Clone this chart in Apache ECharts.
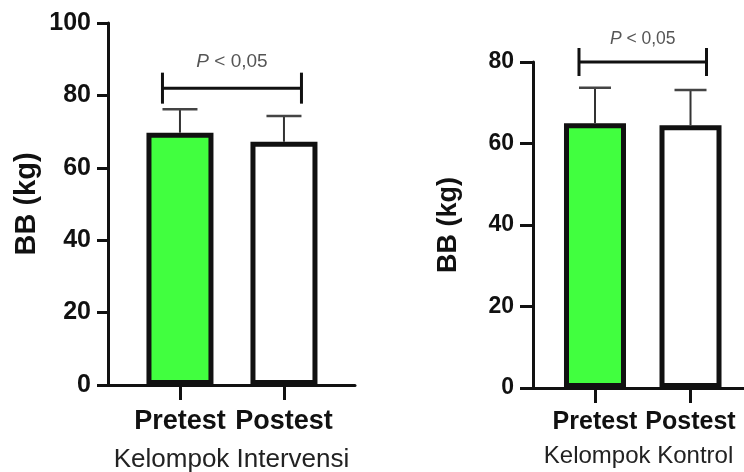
<!DOCTYPE html>
<html>
<head>
<meta charset="utf-8">
<script src="https://cdn.jsdelivr.net/npm/echarts@6/dist/echarts.min.js"></script>
<style>
html,body{margin:0;padding:0;background:#fff;}
#chart{width:744px;height:472px;}
</style>
</head>
<body>
<div id="chart"></div>
<script>
// ---- data ----
const categories = ['Pretest', 'Postest'];
const intervensiMean = [69.7, 67.2];
const intervensiSD = [6.5, 7.1];
const kontrolMean = [65.0, 64.5];
const kontrolSD = [8.7, 8.6];
const intervensiBracket = 82;   // y-level of significance bracket
const kontrolBracket = 80;
const pLabel = '< 0,05';
const leftTicks = [0, 20, 40, 60, 80, 100];
const rightTicks = [0, 20, 40, 60, 80];
const leftXName = 'Kelompok Intervensi';
const rightXName = 'Kelompok Kontrol';
const yName = 'BB (kg)';

const FONT = "'Liberation Sans', Arial, Helvetica, sans-serif";
const GREEN = '#41ff3f';
const xPos = categories.map((c, i) => i + 1);

function barData(means) {
  return means.map((m, i) => ({
    value: [xPos[i], m],
    itemStyle: { color: i === 0 ? GREEN : '#ffffff' }
  }));
}
function errData(means, sds) {
  return means.map((m, i) => [xPos[i], m, sds[i]]);
}

function errRender(capHalf) {
  return function (params, api) {
    const x = api.value(0), m = api.value(1), sd = api.value(2);
    const base = api.coord([x, m]);
    const top = api.coord([x, m + sd]);
    return {
      type: 'group',
      children: [
        { type: 'line', shape: { x1: base[0], y1: base[1], x2: top[0], y2: top[1] },
          style: { stroke: '#333', lineWidth: 2 } },
        { type: 'line', shape: { x1: top[0] - capHalf, y1: top[1], x2: top[0] + capHalf, y2: top[1] },
          style: { stroke: '#444', lineWidth: 2.5 } }
      ]
    };
  };
}

function bracketRender(capHalf, endHalf, textOff, fs) {
  return function (params, api) {
    const y = api.value(2);
    const p1 = api.coord([api.value(0), y]);
    const p2 = api.coord([api.value(1), y]);
    const xl = p1[0] - capHalf, xr = p2[0] + capHalf;
    return {
      type: 'group',
      children: [
        { type: 'line', shape: { x1: xl, y1: p1[1], x2: xr, y2: p1[1] }, style: { stroke: '#111', lineWidth: 3 } },
        { type: 'line', shape: { x1: xl, y1: p1[1] - endHalf, x2: xl, y2: p1[1] + endHalf }, style: { stroke: '#111', lineWidth: 3 } },
        { type: 'line', shape: { x1: xr, y1: p1[1] - endHalf, x2: xr, y2: p1[1] + endHalf }, style: { stroke: '#111', lineWidth: 3 } },
        { type: 'text', x: (xl + xr) / 2, y: p1[1] - textOff,
          style: {
            text: '{i|P} ' + pLabel, align: 'center', verticalAlign: 'middle',
            fontFamily: FONT, fontSize: fs, fill: '#555',
            rich: { i: { fontStyle: 'italic', fontFamily: FONT, fontSize: fs, fill: '#555' } }
          } }
      ]
    };
  };
}

function xAxisCfg(idx, min, max, name, fs, nameFs, nameGap, labelMargin) {
  return {
    gridIndex: idx, type: 'value', min: min, max: max,
    splitLine: { show: false },
    axisLine: { show: true, onZero: false, lineStyle: { color: '#111', width: 3 } },
    axisTick: { show: true, customValues: xPos, length: 15, lineStyle: { color: '#111', width: 3 } },
    axisLabel: {
      customValues: xPos, margin: labelMargin,
      formatter: v => categories[Math.round(v) - 1] || '',
      fontFamily: FONT, fontWeight: 'bold', fontSize: fs, color: '#111'
    },
    name: name, nameLocation: 'middle', nameGap: nameGap,
    nameTextStyle: { fontFamily: FONT, fontSize: nameFs, color: '#222' }
  };
}
function yAxisCfg(idx, max, fs, tickLen, margin, nameFs, nameGap) {
  return {
    gridIndex: idx, type: 'value', min: 0, max: max, interval: 20,
    splitLine: { show: false },
    axisLine: { show: true, lineStyle: { color: '#111', width: 3 } },
    axisTick: { show: true, length: tickLen, lineStyle: { color: '#111', width: 3 } },
    axisLabel: { margin: margin, fontFamily: FONT, fontWeight: 'bold', fontSize: fs, color: '#111' },
    name: yName, nameLocation: 'middle', nameGap: nameGap,
    nameTextStyle: { fontFamily: FONT, fontWeight: 'bold', fontSize: nameFs, color: '#111' }
  };
}

const chart = echarts.init(document.getElementById('chart'), null, { renderer: 'canvas' });
chart.setOption({
  animation: false,
  backgroundColor: '#ffffff',
  grid: [
    { left: 108, top: 23, width: 247, height: 362, containLabel: false, outerBoundsMode: 'none' },
    { left: 533, top: 62, width: 211, height: 326, containLabel: false, outerBoundsMode: 'none' }
  ],
  xAxis: [
    xAxisCfg(0, 0.308, 2.683, leftXName, 27, 26, 62, 23),
    xAxisCfg(1, 0.351, 2.560, rightXName, 25, 24, 56, 22)
  ],
  yAxis: [
    yAxisCfg(0, leftTicks[leftTicks.length - 1], 25, 11, 17, 29, 67),
    yAxisCfg(1, rightTicks[rightTicks.length - 1], 23, 13, 19, 27, 71)
  ],
  series: [
    { type: 'bar', xAxisIndex: 0, yAxisIndex: 0, barWidth: 67, data: barData(intervensiMean),
      itemStyle: { borderColor: '#111', borderWidth: 5 }, z: 2 },
    { type: 'bar', xAxisIndex: 1, yAxisIndex: 1, barWidth: 62, data: barData(kontrolMean),
      itemStyle: { borderColor: '#111', borderWidth: 5 }, z: 2 },
    { type: 'custom', xAxisIndex: 0, yAxisIndex: 0, data: errData(intervensiMean, intervensiSD),
      renderItem: errRender(17.5), z: 1 },
    { type: 'custom', xAxisIndex: 1, yAxisIndex: 1, data: errData(kontrolMean, kontrolSD),
      renderItem: errRender(16), z: 1 },
    { type: 'custom', xAxisIndex: 0, yAxisIndex: 0, data: [[xPos[0], xPos[1], intervensiBracket]],
      renderItem: bracketRender(17.5, 15.5, 26, 19), z: 3 },
    { type: 'custom', xAxisIndex: 1, yAxisIndex: 1, data: [[xPos[0], xPos[1], kontrolBracket]],
      renderItem: bracketRender(16, 14, 23, 17.5), z: 3 }
  ]
});
</script>
</body>
</html>
